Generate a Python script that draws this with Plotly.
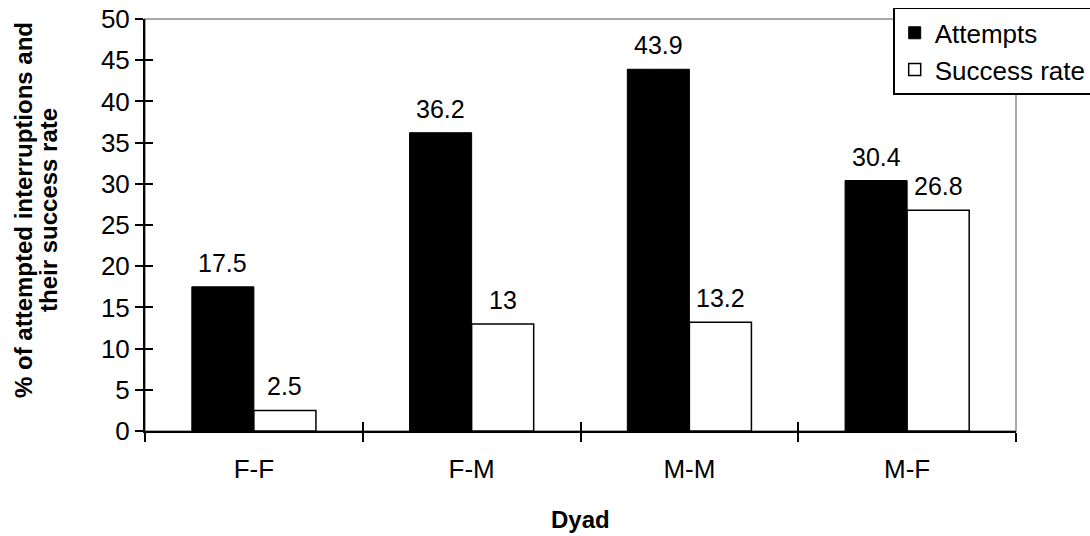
import plotly.graph_objects as go

categories = ["F-F", "F-M", "M-M", "M-F"]
attempts = [17.5, 36.2, 43.9, 30.4]
success_rate = [2.5, 13, 13.2, 26.8]
y_ticks = [0, 5, 10, 15, 20, 25, 30, 35, 40, 45, 50]

FONT = "Liberation Sans, Arial, sans-serif"
BAR_HALF_PX = 31  # half bar width in pixels, for label placement

fig = go.Figure()
fig.add_trace(go.Bar(
    x=categories, y=attempts, name="Attempts",
    marker=dict(color="black", line=dict(color="black", width=1)),
    legendgroup="a",
))
fig.add_trace(go.Bar(
    x=categories, y=success_rate, name="Success rate",
    marker=dict(color="white", line=dict(color="black", width=1.5)),
    legendgroup="b",
))
# helper trace for the inner half of crossing ticks
fig.add_trace(go.Scatter(
    x=categories, y=[None] * len(categories), xaxis="x2", yaxis="y2",
    showlegend=False, hoverinfo="skip", mode="markers",
))

annotations = []
for cat, a, s in zip(categories, attempts, success_rate):
    annotations.append(dict(x=cat, y=a, text=f"{a:g}", xshift=-BAR_HALF_PX, yshift=8,
                            yanchor="bottom", showarrow=False,
                            font=dict(size=25, family=FONT, color="black")))
    annotations.append(dict(x=cat, y=s, text=f"{s:g}", xshift=BAR_HALF_PX, yshift=8,
                            yanchor="bottom", showarrow=False,
                            font=dict(size=25, family=FONT, color="black")))

annotations += [
    dict(text="<b>Dyad</b>", xref="paper", yref="paper", x=0.5, y=0,
         yshift=-88, yanchor="middle", showarrow=False,
         font=dict(size=24, family=FONT)),
    dict(text="<b>% of attempted interruptions and</b>", xref="paper", yref="paper",
         x=0, xshift=-122, y=0.5, yshift=15, textangle=-90, showarrow=False,
         xanchor="center", yanchor="middle", font=dict(size=24, family=FONT)),
    dict(text="<b>their success rate</b>", xref="paper", yref="paper",
         x=0, xshift=-97, y=0.5, yshift=15, textangle=-90, showarrow=False,
         xanchor="center", yanchor="middle", font=dict(size=24, family=FONT)),
]

fig.update_layout(
    width=1090, height=536,
    margin=dict(l=145, r=74, t=19, b=105, autoexpand=False),
    paper_bgcolor="white", plot_bgcolor="white",
    font=dict(family=FONT, size=26, color="black"),
    barmode="group", bargap=0.43, bargroupgap=0,
    showlegend=True,
    legend=dict(
        x=0.859, y=1.027, xanchor="left", yanchor="top",
        bordercolor="black", borderwidth=1.5, bgcolor="white",
        font=dict(size=26, family=FONT, color="black"),
        traceorder="grouped", tracegroupgap=0,
        itemclick=False,
    ),
    xaxis=dict(
        categoryorder="array", categoryarray=categories,
        range=[-0.5, 3.5],
        showline=True, linecolor="black", linewidth=2,
        ticks="outside", ticklen=9, tickwidth=2, tickcolor="black",
        tickson="boundaries", ticklabelstandoff=14,
        tickfont=dict(size=26, family=FONT),
        showgrid=False, zeroline=False,
    ),
    yaxis=dict(
        range=[0, 50], tickvals=y_ticks,
        showline=True, linecolor="black", linewidth=2,
        ticks="outside", ticklen=8, tickwidth=2, tickcolor="black",
        tickfont=dict(size=26, family=FONT),
        showgrid=False, zeroline=False,
    ),
    xaxis2=dict(
        overlaying="x", anchor="y2", categoryorder="array", categoryarray=categories,
        range=[-0.5, 3.5], ticks="inside", ticklen=9, tickwidth=2, tickcolor="black",
        tickson="boundaries", showticklabels=False, showgrid=False, zeroline=False,
        showline=False,
    ),
    yaxis2=dict(
        overlaying="y", anchor="x2", range=[0, 50], tickvals=y_ticks,
        ticks="inside", ticklen=8, tickwidth=2, tickcolor="black",
        showticklabels=False, showgrid=False, zeroline=False, showline=False,
    ),
    shapes=[dict(
        type="rect", xref="paper", yref="paper", x0=0, x1=1, y0=0, y1=1,
        line=dict(color="#8c8c8c", width=1.5), layer="below",
    )],
    annotations=annotations,
)

fig.write_html("out.html")
